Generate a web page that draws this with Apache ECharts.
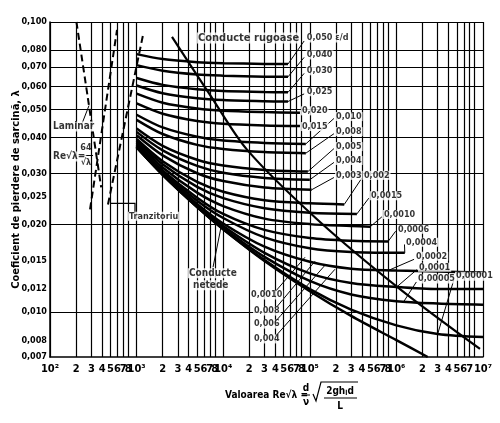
<!DOCTYPE html>
<html>
<head>
<meta charset="utf-8">
<script src="https://cdn.jsdelivr.net/npm/echarts@6/dist/echarts.min.js"></script>
<style>
  html, body { margin: 0; padding: 0; background: #fff; }
  #chart { width: 500px; height: 423px; }
</style>
</head>
<body>
<div id="chart"></div>
<script>
const FONT = '"Liberation Sans Narrow", "DejaVu Sans Condensed", "DejaVu Sans", sans-serif';

// axes
const decades = [1e2, 1e3, 1e4, 1e5, 1e6, 1e7];
const decadeLabels = ['10²', '10³', '10⁴', '10⁵', '10⁶', '10⁷'];
const subSteps = [2, 3, 4, 5, 6, 7, 8];
const yTicks = [0.007, 0.008, 0.010, 0.012, 0.015, 0.020, 0.025, 0.030, 0.040, 0.050, 0.060, 0.070, 0.080, 0.100];
const yExtraGrid = [0.009];

// Re·sqrt(lambda) sample points for the curves
const xSamples = [1e3, 2e3, 5e3, 1e4, 3e4, 1e5, 3e5, 1e6, 3e6, 1e7];

// relative roughness eps/d
const epsNames = ['0,050', '0,040', '0,030', '0,025', '0,020', '0,015', '0,010', '0,008', '0,005', '0,004',
  '0,003', '0,002', '0,0015', '0,0010', '0,0006', '0,0004', '0,0002', '0,0001', '0,00005', '0,00001', 'netede'];
const epsLambda = [
  [0.0775, 0.0745, 0.0727, 0.0721, 0.0717],
  [0.0710, 0.0679, 0.0659, 0.0653, 0.0648],
  [0.0641, 0.0607, 0.0586, 0.0578, 0.0574],
  [0.0604, 0.0568, 0.0546, 0.0538, 0.0533],
  [0.0566, 0.0527, 0.0503, 0.0494, 0.0489],
  [0.0524, 0.0483, 0.0456, 0.0446, 0.0440],
  [0.0479, 0.0433, 0.0402, 0.0390, 0.0383],
  [0.0460, 0.0411, 0.0377, 0.0365, 0.0356],
  [0.0429, 0.0374, 0.0335, 0.0320, 0.0309],
  [0.0418, 0.0361, 0.0319, 0.0302, 0.0290],
  [0.0407, 0.0347, 0.0301, 0.0283, 0.0269],
  [0.0395, 0.0331, 0.0281, 0.0260, 0.0243, 0.0237],
  [0.0389, 0.0323, 0.0270, 0.0247, 0.0228, 0.0220],
  [0.0383, 0.0315, 0.0258, 0.0232, 0.0210, 0.0201, 0.0198],
  [0.0378, 0.0308, 0.0248, 0.0218, 0.0192, 0.0180, 0.0176],
  [0.0375, 0.0304, 0.0242, 0.0211, 0.0181, 0.0166, 0.0161, 0.0160],
  [0.0372, 0.0301, 0.0236, 0.0202, 0.0168, 0.0149, 0.0141, 0.0139, 0.0138, 0.0137],
  [0.0371, 0.0299, 0.0233, 0.0198, 0.0160, 0.0136, 0.0126, 0.0122, 0.0120, 0.0120],
  [0.0370, 0.0298, 0.0231, 0.0195, 0.0155, 0.0128, 0.0115, 0.0109, 0.0107, 0.0106],
  [0.0370, 0.0297, 0.0230, 0.0193, 0.0151, 0.0120, 0.0102, 0.0090, 0.0084, 0.0082],
  [0.0370, 0.0297, 0.0230, 0.0193, 0.0150, 0.0118, 0.0097, 0.0080]
];
const epsEnd = [
  [5.6e4, 0.0716], [5.6e4, 0.0647], [5.6e4, 0.0572], [5.6e4, 0.0532], [7.7e4, 0.0487],
  [7.7e4, 0.0438], [9e4, 0.0380], [9e4, 0.0353], [9.5e4, 0.0305], [1e5, 0.0286],
  [1.05e5, 0.0264], [2.5e5, 0.0235], [3.5e5, 0.0218], [5e5, 0.0197], [8e5, 0.0175],
  [1.25e6, 0.0160], null, null, null, null, [2.3e6, 0.0070]
];

// dashed laminar / transition lines and the rough-pipe boundary
const laminarX = [202, 250, 300, 350, 390];
const laminarL = [0.100, 0.0655, 0.0455, 0.0334, 0.0269];
const transB = [[290, 0.0226], [594, 0.0939]];
const transC = [[467, 0.0235], [1186, 0.0902]];
const roughBoundary = [[2563, 0.0888], [7040, 0.0561], [18830, 0.0363], [1.211e5, 0.0209], [1.10e6, 0.0120], [9.23e6, 0.00746]];

// text notes: text, x, lambda, size, align
const noteRows = [
  ['Conducte rugoase', 4983, 0.0881, 11, 'left'],
  ['0,050 ε/d', 9.0e4, 0.0881, 9, 'left'],
  ['0,040', 9.0e4, 0.0770, 9, 'left'],
  ['0,030', 9.0e4, 0.0679, 9, 'left'],
  ['0,025', 9.0e4, 0.0575, 9, 'left'],
  ['0,020', 7.9e4, 0.0494, 9, 'left'],
  ['0,015', 7.9e4, 0.0436, 9, 'left'],
  ['0,010', 1.955e5, 0.0472, 9, 'left'],
  ['0,008', 1.955e5, 0.0419, 9, 'left'],
  ['0,005', 1.955e5, 0.0372, 9, 'left'],
  ['0,004', 1.955e5, 0.0333, 9, 'left'],
  ['0,003', 1.955e5, 0.0296, 9, 'left'],
  ['0,002', 4.11e5, 0.0296, 9, 'left'],
  ['0,0015', 4.95e5, 0.0252, 9, 'left'],
  ['0,0010', 7.0e5, 0.0217, 9, 'left'],
  ['0,0006', 1.016e6, 0.0193, 9, 'left'],
  ['0,0004', 1.257e6, 0.0174, 9, 'left'],
  ['0,0002', 1.64e6, 0.01557, 9, 'left'],
  ['0,0001', 1.775e6, 0.01428, 9, 'left'],
  ['0,00005', 1.73e6, 0.01299, 9, 'left'],
  ['0,00001', 4.75e6, 0.0133, 9, 'left'],
  ['Laminar', 105.5, 0.0436, 10, 'left'],
  ['Re√λ=', 105.5, 0.0344, 10, 'left'],
  ['64', 260, 0.0368, 9, 'center'],
  ['√λ', 260, 0.0327, 9, 'center'],
  ['Tranzitoriu', 795.6, 0.0214, 9, 'left'],
  ['Conducte', 3922, 0.0136, 10, 'left'],
  ['netede', 4363, 0.01238, 10, 'left'],
  ['0,0010', 20400, 0.01144, 9, 'left'],
  ['0,008', 22080, 0.01008, 9, 'left'],
  ['0,006', 22080, 0.00909, 9, 'left'],
  ['0,004', 22080, 0.00808, 9, 'left']
];

// leader lines from labels to the curves
const leaderRows = [
  [[5.6e4, 0.0716], [8.6e4, 0.0860]],
  [[5.6e4, 0.0647], [8.6e4, 0.0755]],
  [[5.6e4, 0.0572], [8.6e4, 0.0665]],
  [[5.6e4, 0.0532], [8.6e4, 0.0565]],
  [[9e4, 0.0380], [1.9e5, 0.0465]],
  [[9e4, 0.0353], [1.9e5, 0.0412]],
  [[9.5e4, 0.0305], [1.9e5, 0.0366]],
  [[1e5, 0.0286], [1.9e5, 0.0328]],
  [[1.05e5, 0.0264], [1.9e5, 0.0291]],
  [[2.5e5, 0.0235], [4.0e5, 0.0290]],
  [[3.5e5, 0.0218], [4.8e5, 0.0247]],
  [[5e5, 0.0197], [6.8e5, 0.0213]],
  [[8e5, 0.0175], [9.8e5, 0.0190]],
  [[1.25e6, 0.0160], [1.24e6, 0.0171]],
  [[8e5, 0.0139], [1.6e6, 0.0152]],
  [[1e6, 0.01218], [1.72e6, 0.0140]],
  [[1.2e6, 0.0108], [1.7e6, 0.0127]],
  [[3e6, 0.00841], [4.6e6, 0.0129]],
  [[3.86e4, 0.01162], [8.8e4, 0.01545]],
  [[3.96e4, 0.01024], [1.148e5, 0.01497]],
  [[3.96e4, 0.00924], [1.498e5, 0.0145]],
  [[3.96e4, 0.00821], [1.955e5, 0.01405]],
  [[234, 0.0446], [282, 0.0515]],
  [[7630, 0.01428], [9400, 0.0195]],
  [[222, 0.0347], [314, 0.0347]]
];
const tranzArrow = [[958, 0.0219], [958, 0.0237], [506, 0.0237]];

const xLabelVals = [];
const xGrid = [];
decades.forEach((d, i) => {
  xLabelVals.push(d);
  xGrid.push(d);
  if (i < decades.length - 1) {
    subSteps.forEach(s => { xLabelVals.push(d * s); xGrid.push(d * s); });
  }
});
const yGrid = yTicks.concat(yExtraGrid);

const chart = echarts.init(document.getElementById('chart'));

const series = [];
// grid lines
series.push({
  type: 'line',
  data: [],
  z: 1,
  silent: true,
  markLine: {
    silent: true,
    symbol: ['none', 'none'],
    label: { show: false },
    lineStyle: { type: 'solid', color: '#000', width: 1.2 },
    data: xGrid.map(v => ({ xAxis: v })).concat(yGrid.map(v => ({ yAxis: v })))
  }
});

epsLambda.forEach((row, i) => {
  const pts = row.map((l, j) => [xSamples[j], l]);
  if (epsEnd[i]) pts.push(epsEnd[i]);
  series.push({
    name: epsNames[i],
    type: 'line',
    data: pts,
    showSymbol: false,
    symbol: 'none',
    smooth: 0.3,
    z: 3,
    lineStyle: { color: '#000', width: 2.5 }
  });
});

series.push({
  type: 'line', data: roughBoundary, symbol: 'none', smooth: 0.3, z: 3,
  lineStyle: { color: '#000', width: 2.2 }
});
series.push({
  type: 'line', data: laminarX.map((x, i) => [x, laminarL[i]]), symbol: 'none', smooth: true, z: 3,
  lineStyle: { color: '#000', width: 2, type: [7, 4] }
});
[transB, transC].forEach(d => series.push({
  type: 'line', data: d, symbol: 'none', z: 3,
  lineStyle: { color: '#000', width: 2, type: [7, 4] }
}));

series.push({
  type: 'lines',
  coordinateSystem: 'cartesian2d',
  z: 4,
  silent: true,
  lineStyle: { color: '#000', width: 1, opacity: 1 },
  data: leaderRows.map(r => ({ coords: r }))
});
series.push({
  type: 'lines',
  coordinateSystem: 'cartesian2d',
  polyline: true,
  z: 4,
  silent: true,
  symbol: ['none', 'arrow'],
  symbolSize: 6,
  lineStyle: { color: '#000', width: 1.2, opacity: 1 },
  data: [{ coords: tranzArrow }]
});

series.push({
  type: 'scatter',
  symbolSize: 0,
  z: 5,
  silent: true,
  data: noteRows.map(r => ({
    name: r[0],
    value: [r[1], r[2]],
    label: {
      show: true,
      formatter: '{b}',
      position: r[4] === 'center' ? 'inside' : 'right',
      distance: 0,
      fontSize: r[3],
      fontWeight: 'bold',
      fontFamily: FONT,
      color: '#000',
      backgroundColor: r[4] === 'center' ? 'transparent' : '#fff',
      padding: [0, 1, 0, 1]
    }
  }))
});

const axisFont = { fontFamily: FONT, fontWeight: 'bold', color: '#000' };

chart.setOption({
  backgroundColor: '#fff',
  animation: false,
  grid: { left: 50, right: 17, top: 22, bottom: 66, outerBoundsMode: 'none' },
  xAxis: {
    type: 'log',
    logBase: 10,
    min: 100,
    max: 1e7,
    axisLine: { show: true, lineStyle: { color: '#000', width: 1.5 } },
    axisTick: { show: false },
    splitLine: { show: false },
    axisLabel: Object.assign({
      customValues: xLabelVals,
      showMinLabel: true,
      showMaxLabel: true,
      hideOverlap: false,
      fontSize: 11,
      margin: 7,
      formatter: v => {
        const k = decades.findIndex(d => Math.abs(d - v) / d < 1e-6);
        if (k >= 0) return decadeLabels[k];
        const p = Math.pow(10, Math.floor(Math.log10(v) + 1e-9));
        return String(Math.round(v / p));
      }
    }, axisFont)
  },
  yAxis: {
    type: 'log',
    logBase: 10,
    min: 0.007,
    max: 0.1,
    name: 'Coeficient de pierdere de sarcină, λ',
    nameLocation: 'middle',
    nameRotate: 90,
    nameGap: 28,
    nameMoveOverlap: false,
    nameTextStyle: Object.assign({ fontSize: 11 }, axisFont),
    axisLine: { show: true, lineStyle: { color: '#000', width: 1.5 } },
    axisTick: { show: false },
    splitLine: { show: false },
    axisLabel: Object.assign({
      customValues: yTicks,
      showMinLabel: true,
      showMaxLabel: true,
      fontSize: 9,
      margin: 3,
      formatter: v => v.toFixed(3).replace('.', ',')
    }, axisFont)
  },
  graphic: [
    { type: 'text', x: 225, y: 395, style: { text: 'Valoarea Re√λ =', font: 'bold 10px ' + FONT, fill: '#000', align: 'left', verticalAlign: 'middle' } },
    { type: 'text', x: 306, y: 388, style: { text: 'd', font: 'bold 10px ' + FONT, fill: '#000', align: 'center', verticalAlign: 'middle' } },
    { type: 'line', shape: { x1: 302, y1: 395, x2: 310, y2: 395 }, style: { stroke: '#000', lineWidth: 1 } },
    { type: 'text', x: 306, y: 402, style: { text: 'ν', font: 'bold 10px ' + FONT, fill: '#000', align: 'center', verticalAlign: 'middle' } },
    { type: 'polyline', shape: { points: [[313, 394], [316, 401], [321, 382], [358, 382]] }, style: { stroke: '#000', lineWidth: 1.2, fill: null } },
    { type: 'text', x: 340, y: 391, style: {
      text: '2gh{s|l}d', font: 'bold 10px ' + FONT, fill: '#000', align: 'center', verticalAlign: 'middle',
      rich: { s: { font: 'bold 7px ' + FONT, fill: '#000', padding: [5, 0, 0, 0] } }
    } },
    { type: 'line', shape: { x1: 324, y1: 398, x2: 357, y2: 398 }, style: { stroke: '#000', lineWidth: 1.2 } },
    { type: 'text', x: 340, y: 406, style: { text: 'L', font: 'bold 10px ' + FONT, fill: '#000', align: 'center', verticalAlign: 'middle' } }
  ],
  series: series
});
</script>
</body>
</html>
